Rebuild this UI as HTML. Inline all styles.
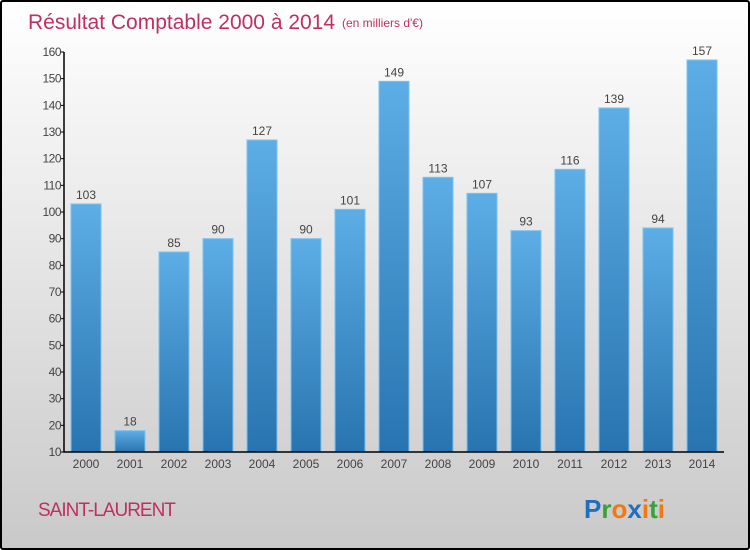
<!DOCTYPE html>
<html><head><meta charset="utf-8"><style>
body{margin:0;}
#c{position:relative;width:750px;height:550px;box-sizing:border-box;border:2px solid #000;border-radius:3px;background:linear-gradient(#ffffff,#f4f4f4 20%,#c9c9c9);font-family:"Liberation Sans",sans-serif;overflow:hidden}
svg{position:absolute;left:0;top:0}
</style></head><body>
<div id="c">
<svg id="s" width="750" height="550">
<defs><linearGradient id="g" x1="0" y1="0" x2="0" y2="1"><stop offset="0" stop-color="#5dade6"/><stop offset="1" stop-color="#2874b0"/></linearGradient></defs>
<text x="26" y="27" font-size="21" fill="#c0305e">Résultat Comptable 2000 à 2014</text>
<text x="340" y="25" font-size="12" fill="#c0305e">(en milliers d'€)</text>
<text x="36" y="514" font-size="19" fill="#c0305e" letter-spacing="-1">SAINT-LAURENT</text>
<text x="582" y="516" font-size="26" font-weight="bold" font-family="Liberation Sans, sans-serif"><tspan fill="#1f6fc0">P</tspan><tspan fill="#3aa03a">r</tspan><tspan fill="#f07a10">o</tspan><tspan fill="#1f6fc0">x</tspan><tspan fill="#f07a10">i</tspan><tspan fill="#3aa03a">t</tspan><tspan fill="#f07a10">i</tspan></text>
</svg>
</div>
<script>
const years=["2000","2001","2002","2003","2004","2005","2006","2007","2008","2009","2010","2011","2012","2013","2014"];
const values=[103,18,85,90,127,90,101,149,113,107,93,116,139,94,157];
const yTicks=[10,20,30,40,50,60,70,80,90,100,110,120,130,140,150,160];
const s=document.getElementById('s');const NS="http://www.w3.org/2000/svg";
const x0=62,x1=722,yMin=10,yMax=160,yB=450,yT=50;
const y=v=>yB-(v-yMin)/(yMax-yMin)*(yB-yT);
const step=(x1-x0)/years.length;
function mk(t,a){const e=document.createElementNS(NS,t);for(const k in a)e.setAttribute(k,a[k]);s.appendChild(e);return e;}
years.forEach((yr,i)=>{
 const cx=x0+step*(i+0.5);
 const r=mk('rect',{x:cx-15,y:y(values[i]),width:30,height:yB-y(values[i]),fill:'url(#g)',stroke:'#7cc2f0','stroke-width':1});
 
 
 const t=mk('text',{x:cx,y:y(values[i])-5,'text-anchor':'middle','font-size':12,fill:'#444'});t.textContent=values[i];
 
 
 const l=mk('text',{x:cx,y:466,'text-anchor':'middle','font-size':12,fill:'#444'});l.textContent=yr;
 
 
});
const ax=mk('path',{d:`M${x0} ${yT}V${yB}H${x1}`,stroke:'#000','stroke-width':1.5,fill:'none'});


yTicks.forEach(v=>{
 const tk=mk('line',{x1:x0-3,x2:x0,y1:y(v),y2:y(v),stroke:'#000'});
 
 
 const t=mk('text',{x:x0-3,y:y(v)+4,'text-anchor':'end','font-size':12,fill:'#444','letter-spacing':'-0.5'});t.textContent=v;
 
 
});
</script>
</body></html>
